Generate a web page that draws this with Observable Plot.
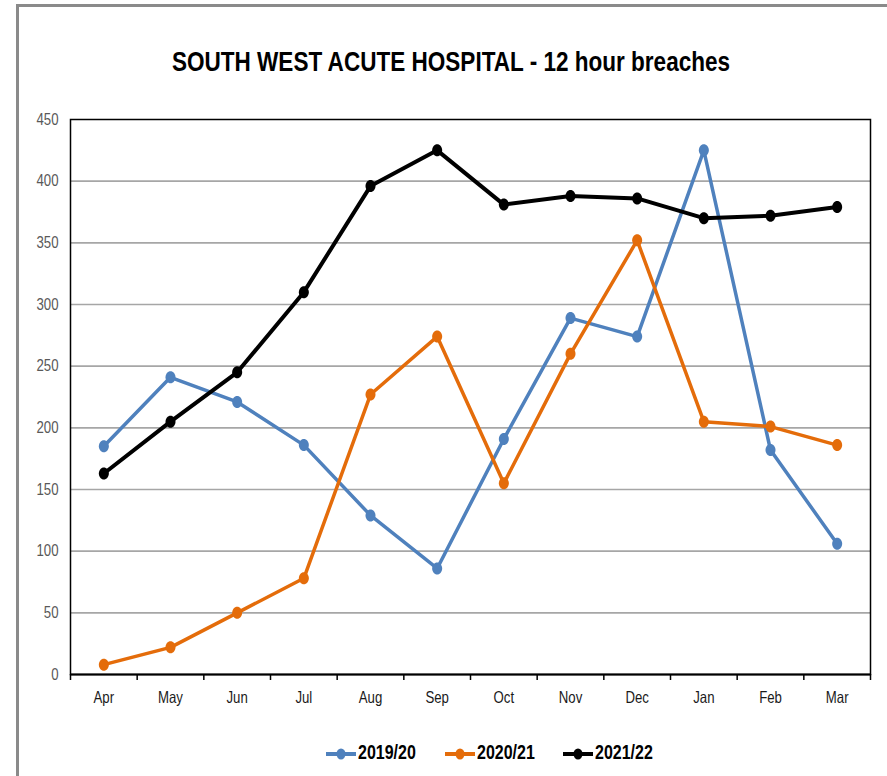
<!DOCTYPE html>
<html>
<head>
<meta charset="utf-8">
<script src="https://cdn.jsdelivr.net/npm/d3@7"></script>
<script src="https://cdn.jsdelivr.net/npm/@observablehq/plot@0.6"></script>
<style>
  html, body { margin: 0; padding: 0; background: #fff; }
  #wrap { position: relative; width: 887px; height: 776px; overflow: hidden; background: #fff;
          font-family: "Liberation Sans", Arial, sans-serif; }
  #border { position: absolute; left: 16px; top: 4px; width: 900px; height: 800px;
            border-left: 3px solid #8a8a8a; border-top: 3px solid #8a8a8a; }
  #title { position: absolute; left: 0; width: 902px; top: 46px; text-align: center;
           font-size: 28px; font-weight: bold; color: #000;
           transform: scaleX(0.805); transform-origin: 451px 0; }
  #chart { position: absolute; left: 0; top: 0; }
  .item { position: absolute; top: 741px; height: 26px; }
  .item svg { position: absolute; left: 0; top: 6px; }
  .item span { position: absolute; top: 0; white-space: nowrap; font-size: 20px; font-weight: bold; color: #000;
               transform: scaleX(0.8); transform-origin: 0 0; }
</style>
</head>
<body>
<div id="wrap">
  <div id="border"></div>
  <div id="chart"></div>
  <div id="title">SOUTH WEST ACUTE HOSPITAL - 12 hour breaches</div>
  <div id="legend"></div>
</div>
<script>
const months = ["Apr","May","Jun","Jul","Aug","Sep","Oct","Nov","Dec","Jan","Feb","Mar"];
const seriesNames = ["2019/20","2020/21","2021/22"];
const values2019 = [185, 241, 221, 186, 129, 86, 191, 289, 274, 425, 182, 106];
const values2020 = [8, 22, 50, 78, 227, 274, 155, 260, 352, 205, 201, 186];
const values2021 = [163, 205, 245, 310, 396, 425, 381, 388, 386, 370, 372, 379];
const yTicks = [0, 50, 100, 150, 200, 250, 300, 350, 400, 450];
const colors = ["#4F81BD", "#E46C0A", "#000000"];
const widths = [3.5, 3.5, 4];
const legendLeft = [326, 445, 563];

const allValues = [values2019, values2020, values2021];
const data = [];
allValues.forEach((vals, s) => vals.forEach((v, i) => data.push({series: seriesNames[s], i, month: months[i], value: v})));

const ellipse = {
  draw(ctx) {
    const rx = 5, ry = 6, k = 0.5523;
    ctx.moveTo(rx, 0);
    ctx.bezierCurveTo(rx, ry * k, rx * k, ry, 0, ry);
    ctx.bezierCurveTo(-rx * k, ry, -rx, ry * k, -rx, 0);
    ctx.bezierCurveTo(-rx, -ry * k, -rx * k, -ry, 0, -ry);
    ctx.bezierCurveTo(rx * k, -ry, rx, -ry * k, rx, 0);
    ctx.closePath();
  }
};

const boundaries = d3.range(months.length + 1).map(i => i - 0.5);
const midTicks = d3.range(months.length);
const gridValues = yTicks.filter(t => t > 0 && t < 450);

const marks = [
  Plot.gridY(gridValues, {stroke: "#a6a6a6", strokeOpacity: 1, strokeWidth: 1.6}),
  Plot.axisY(yTicks, {tickSize: 0, tickPadding: 12, fontSize: 16.5, fill: "#595959", label: null}),
  Plot.axisX(midTicks, {tickSize: 0, tickPadding: 17, fontSize: 16.5, fill: "#1a1a1a",
                        tickFormat: i => months[i], label: null}),
  Plot.axisX(boundaries, {tickSize: 6, tickFormat: () => "", stroke: "#000", strokeWidth: 1.5, label: null}),
  Plot.frame({stroke: "#000", strokeWidth: 1.5})
];
seriesNames.forEach((name, s) => {
  const d = data.filter(r => r.series === name);
  marks.push(Plot.line(d, {x: "i", y: "value", stroke: colors[s], strokeWidth: widths[s]}));
  marks.push(Plot.dot(d, {x: "i", y: "value", fill: colors[s], stroke: null, symbol: ellipse, r: 5}));
});
marks.push(Plot.ruleY([0], {stroke: "#000", strokeWidth: 2}));

const chart = Plot.plot({
  width: 887,
  height: 776,
  marginLeft: 70,
  marginRight: 17,
  marginTop: 119,
  marginBottom: 102,
  style: {fontFamily: '"Liberation Sans", Arial, sans-serif', background: "transparent"},
  x: {type: "linear", domain: [-0.5, months.length - 0.5]},
  y: {domain: [0, 450]},
  marks
});
// condense the tick label glyphs horizontally to mimic a narrow typeface
chart.querySelectorAll("g[aria-label='y-axis tick label'] text, g[aria-label='x-axis tick label'] text").forEach(t => {
  const tr = t.getAttribute("transform") || "";
  t.setAttribute("transform", tr + " scale(0.8,1)");
});
document.getElementById("chart").appendChild(chart);

const legend = document.getElementById("legend");
seriesNames.forEach((name, s) => {
  const item = document.createElement("div");
  item.className = "item";
  item.style.left = legendLeft[s] + "px";
  item.innerHTML = `<svg width="30" height="14"><line x1="0" x2="30" y1="7" y2="7" stroke="${colors[s]}" stroke-width="4"/><ellipse cx="15" cy="7" rx="4.5" ry="5.5" fill="${colors[s]}"/></svg><span style="left:32px">${name}</span>`;
  legend.appendChild(item);
});
</script>
</body>
</html>
